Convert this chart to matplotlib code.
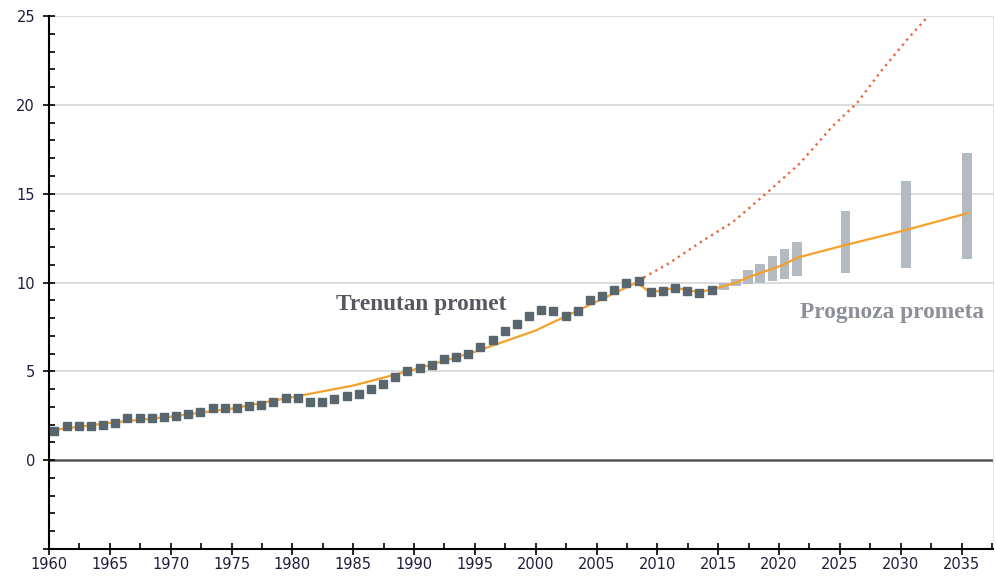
import numpy as np
import matplotlib
matplotlib.use('Agg')
import matplotlib.pyplot as plt
from matplotlib.ticker import MultipleLocator, FuncFormatter

# stvarni promet 1960-2014 (tamni kvadrati)
years = np.arange(1960, 2015)
traffic = [1.63, 1.9, 1.9, 1.9, 2.0, 2.1, 2.35, 2.35, 2.35, 2.45,
           2.5, 2.6, 2.7, 2.95, 2.95, 2.95, 3.05, 3.1, 3.3, 3.5,
           3.5, 3.3, 3.3, 3.45, 3.6, 3.7, 4.0, 4.3, 4.7, 5.0,
           5.2, 5.35, 5.7, 5.8, 6.0, 6.35, 6.75, 7.25, 7.65, 8.1,
           8.45, 8.4, 8.1, 8.4, 9.0, 9.25, 9.6, 10.0, 10.1, 9.45,
           9.55, 9.7, 9.55, 9.4, 9.6]

# prognoza (raspon min-max)
fc_years = [2015, 2016, 2017, 2018, 2019, 2020, 2021, 2025, 2030, 2035]
fc_low = [9.6, 9.8, 9.9, 10.0, 10.1, 10.2, 10.35, 10.56, 10.8, 11.3]
fc_high = [9.95, 10.2, 10.7, 11.07, 11.5, 11.9, 12.3, 14.04, 15.7, 17.3]

# trend (narancasta linija)
trend_x = [1960.3, 1965, 1970, 1975, 1980, 1985, 1990, 1995, 2000, 2004,
           2008.3, 2009.4, 2010.4, 2011.4, 2012.4, 2013.4, 2014.4, 2015.4,
           2016.5, 2017.5, 2018.5, 2019.6, 2020.5, 2021.5, 2025.4, 2030.4, 2035.5]
trend_y = [1.7, 2.1, 2.45, 2.9, 3.55, 4.2, 5.1, 6.1, 7.3, 8.6,
           10.0, 9.45, 9.55, 9.7, 9.6, 9.45, 9.6, 9.78,
           10.0, 10.3, 10.55, 10.8, 11.05, 11.4, 12.1, 12.95, 13.9]

# nastavak rasta prije krize (tockasta linija)
exp_x = [2008.4, 2011, 2013.5, 2016.2, 2019.0, 2021.7, 2024.4, 2026.4, 2028.5, 2030.5, 2032.2]
exp_y = [10.1, 11.1, 12.25, 13.4, 15.05, 16.7, 18.8, 20.1, 22.0, 23.65, 24.95]

shift = 0.45

fig = plt.figure(figsize=(9.96, 5.8), dpi=100)
ax = fig.add_axes([0.0492, 0.0534, 0.948, 0.919])

for v in [5, 10, 15, 20, 25]:
    ax.axhline(v, color='#dcdcdc', lw=1.4, zorder=0)
ax.axhline(0, color='#555555', lw=1.8, zorder=1)

fc_x = np.array(fc_years) + shift
ax.bar(fc_x, np.array(fc_high) - np.array(fc_low), bottom=fc_low, width=0.8,
       color='#b3bac2', zorder=2)

ax.plot(exp_x, exp_y, color='#e8693f', lw=1.7, linestyle=(0, (1, 1.8)), zorder=3)
ax.plot(trend_x, trend_y, color='#f4a12c', lw=1.6, zorder=4)
ax.plot(years + shift, traffic, linestyle='none', marker='s', markersize=6.3,
        color='#5a666e', zorder=5)

ax.text(1983.6, 8.76, 'Trenutan promet', fontsize=16.8, fontweight='bold',
        family='Liberation Serif', color='#5b5562', va='center', zorder=6)
ax.text(2021.7, 8.3, 'Prognoza prometa', fontsize=16.8, fontweight='bold',
        family='Liberation Serif', color='#8c8e9a', va='center', zorder=6)

ax.set_xlim(1960, 2037.6)
ax.set_ylim(-5, 25)
ax.xaxis.set_major_locator(MultipleLocator(5))
ax.xaxis.set_minor_locator(MultipleLocator(2.5))
ax.yaxis.set_major_locator(MultipleLocator(5))
ax.yaxis.set_minor_locator(MultipleLocator(1))
ax.yaxis.set_major_formatter(FuncFormatter(lambda v, p: '' if v < 0 else '%d' % v))

ax.spines['top'].set_visible(False)
ax.spines['right'].set_color('#e6e6e6')
ax.spines['left'].set_linewidth(1.5)
ax.spines['bottom'].set_linewidth(1.5)
ax.tick_params(axis='both', which='major', direction='inout', length=8, width=1.2,
               labelsize=10.5, labelcolor='#1e1e3c', pad=2)
ax.tick_params(axis='both', which='minor', direction='in', length=4, width=1.2)
ax.tick_params(axis='y', which='major', pad=6)
ax.tick_params(axis='y', which='minor', right=False)

fig.savefig('out.png', dpi=100)
